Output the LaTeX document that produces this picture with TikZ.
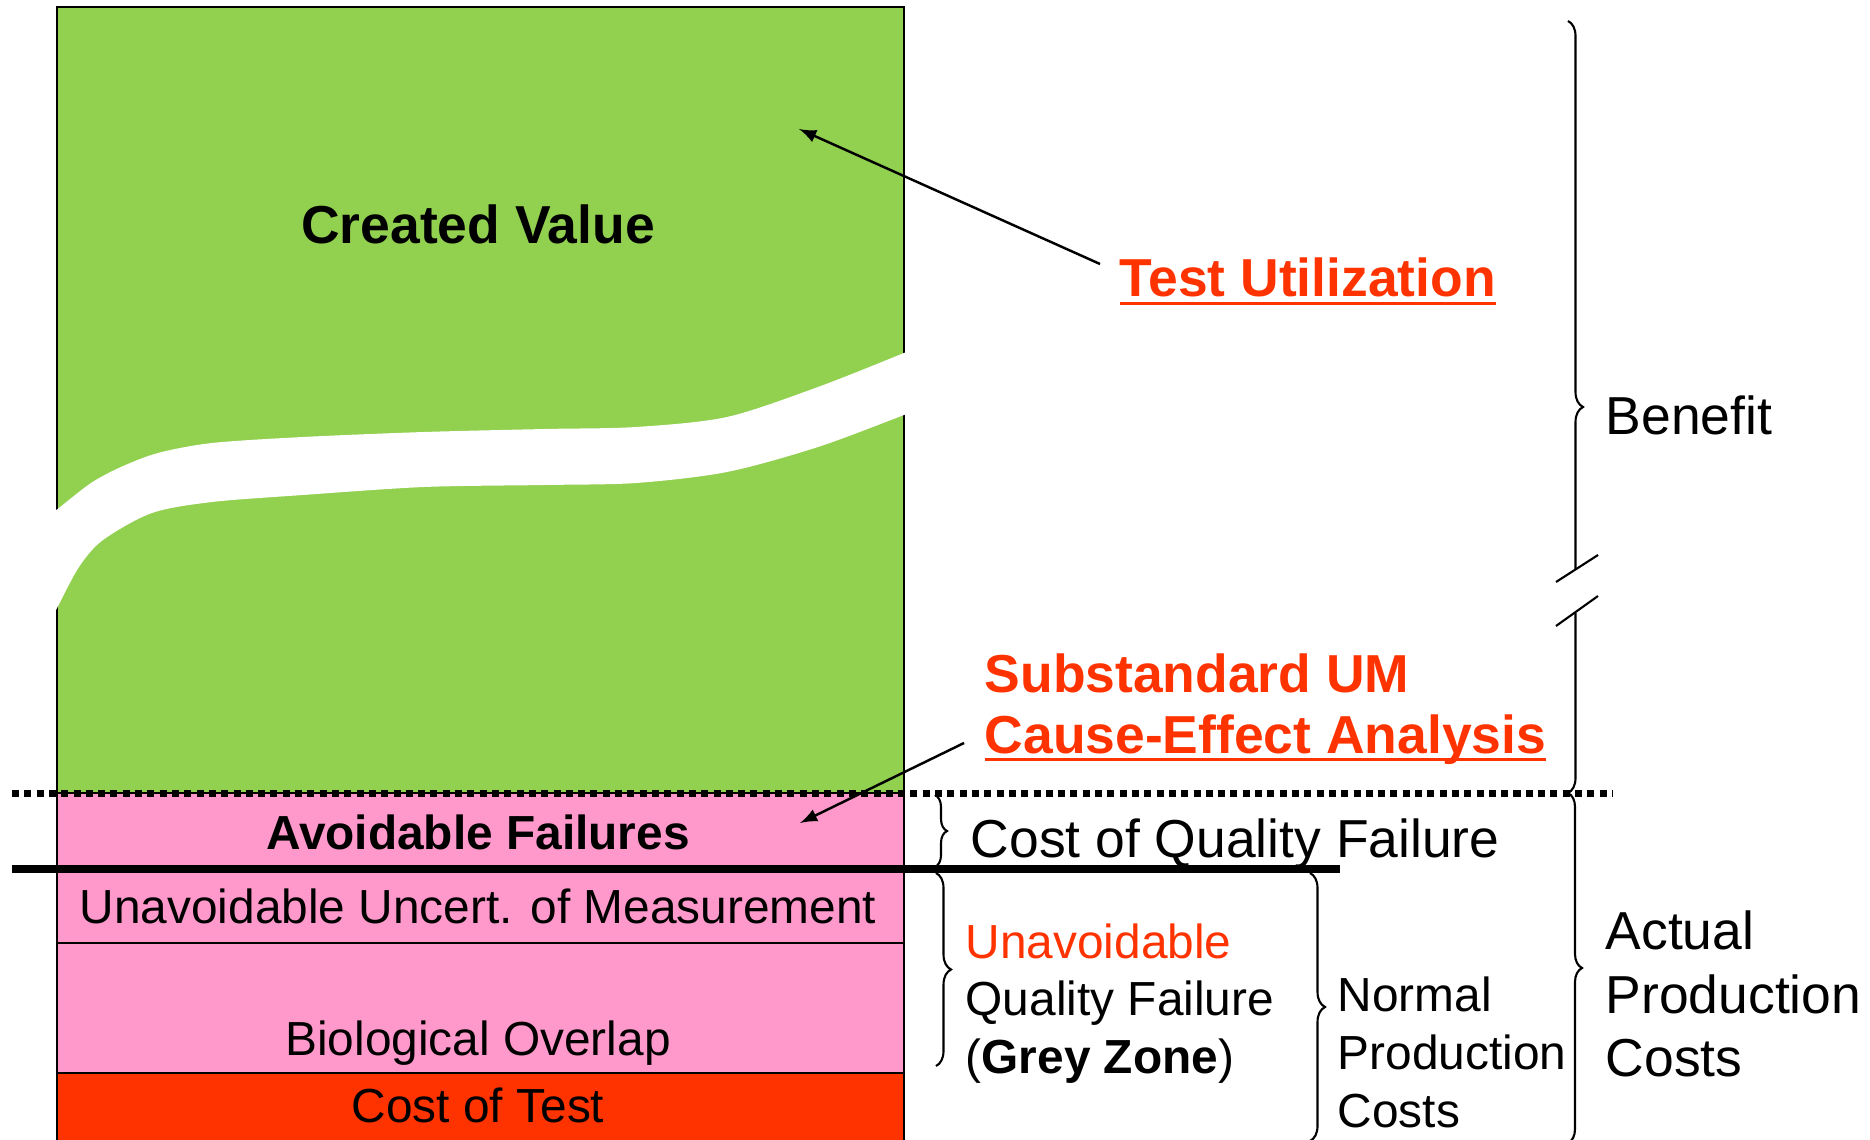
\documentclass[tikz,border=0pt]{standalone}
\usepackage{fontspec}
\setmainfont{Liberation Sans}
\usetikzlibrary{arrows,decorations.pathreplacing}
\definecolor{valgreen}{HTML}{92D050}
\definecolor{failpink}{HTML}{FF99CC}
\definecolor{testred}{HTML}{FF3300}
\newlength{\ullen}
\newcommand{\ultext}[1]{\settowidth{\ullen}{#1}\rlap{\rule[-2.4pt]{\ullen}{0.9pt}}#1}
\newcommand{\bigfont}{\fontsize{15.2pt}{18pt}\selectfont}
\newcommand{\smallfont}{\fontsize{13.6pt}{16pt}\selectfont}
\tikzset{
  box/.style={draw=black, line width=0.6pt},
  boxlabel/.style={anchor=base, inner sep=0pt, font=\smallfont},
  sidelabel/.style={anchor=base west, inner sep=0pt, font=\smallfont},
  bigside/.style={anchor=base west, inner sep=0pt, font=\bigfont},
  curly/.style={decorate, decoration={brace, amplitude=#1}, line width=0.6pt},
  arr/.style={-latex, line width=0.7pt},
}

\begin{document}
\begin{tikzpicture}[x=0.01cm,y=-0.01cm]
\useasboundingbox (0,0) rectangle (1870,1140);
% stacked bars
\filldraw[fill=valgreen, box] (57,7) rectangle (904,793);
\filldraw[fill=failpink, box] (57,793) rectangle (904,1073);
\draw[box] (57,943) -- (904,943);
\filldraw[fill=testred, box] (57,1073) rectangle (904,1160);
% axis break through the green bar
\fill[white] plot[smooth] coordinates {(54,511) (57.6,509) (91,483) (121,467) (158,453) (212,443) (303,437) (424,432) (545,429) (636,427) (727,417) (818,387) (904,353) (908,351)}
  -- plot[smooth] coordinates {(908,413) (904,415) (818,447) (727,472) (636,483) (545,485) (424,487) (303,495) (212,502) (152,513) (103,540) (79,567) (57.6,607) (54,614)} -- cycle;
% bar labels
\node[boxlabel, font=\bfseries\bigfont] (created) at (478,244) {Created Value};
\node[boxlabel, font=\bfseries\smallfont] (avoid) at (478,849) {Avoidable Failures};
\node[boxlabel] (uncert) at (478,923) {Unavoidable Uncert. of Measurement};
\node[boxlabel] (bio) at (478,1055) {Biological Overlap};
\node[boxlabel] (costtest) at (478,1122) {Cost of Test};
% limits
\draw[line width=2pt, dash pattern=on 0.07cm off 0.053cm] (12,793.5) -- (1612,793.5);
\draw[line width=2.3pt] (12,869) -- (1340,869);
% red notes with arrows
\node[bigside, font=\bfseries\bigfont, text=testred] (testutil) at (1119,297) {\ultext{Test Utilization}};
\node[bigside, font=\bfseries\bigfont, text=testred] (substd) at (984,692) {Substandard UM};
\node[bigside, font=\bfseries\bigfont, text=testred] (causeff) at (984,753) {\ultext{Cause-Effect Analysis}};
\coordinate (tuTail) at (1100,264);
\coordinate (tuHead) at (799,129);
\coordinate (ceTail) at (964,743);
\coordinate (ceHead) at (800,823);
\draw[arr] (tuTail) -- (tuHead);
\draw[arr] (ceTail) -- (ceHead);
% braces
\draw[curly=0.15cm] (1568,21) -- (1568,793);
\fill[white] (1560,570) rectangle (1595,613);
\draw[line width=0.6pt] (1556,582) -- (1598,555);
\draw[line width=0.6pt] (1556,626) -- (1598,596);
\draw[curly=0.14cm] (1568,793) -- (1568,1143);
\draw[curly=0.12cm] (935,795) -- (935,867);
\draw[curly=0.15cm] (936,873) -- (936,1066);
\draw[curly=0.15cm] (1310,873) -- (1310,1141);
% brace labels
\node[bigside] (benefit) at (1605,435) {Benefit};
\node[bigside] (qualfail) at (970,857) {Cost of Quality Failure};
\node[sidelabel, text=testred] (unav1) at (965,958) {Unavoidable};
\node[sidelabel] (unav2) at (965,1015) {Quality Failure};
\node[sidelabel] (unav3) at (965,1073) {(\textbf{Grey Zone})};
\node[sidelabel] (norm1) at (1337,1011) {Normal};
\node[sidelabel] (norm2) at (1337,1069) {Production};
\node[sidelabel] (norm3) at (1337,1127) {Costs};
\node[bigside] (act1) at (1605,949) {Actual};
\node[bigside] (act2) at (1605,1013) {Production};
\node[bigside] (act3) at (1605,1076) {Costs};
\end{tikzpicture}
\end{document}
